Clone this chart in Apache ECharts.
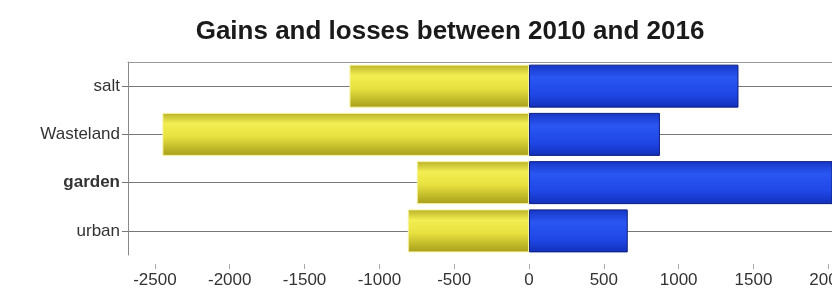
<!DOCTYPE html>
<html>
<head>
<meta charset="utf-8">
<script src="https://cdn.jsdelivr.net/npm/echarts@6/dist/echarts.min.js"></script>
<style>
  html, body { margin: 0; padding: 0; background: #fff; }
  #main { width: 832px; height: 293px; }
</style>
</head>
<body>
<div id="main"></div>
<script>
// categories top to bottom
var categories = ["salt", "Wasteland", "garden", "urban"];
// losses (yellow) and gains (blue)
var losses = [-1200, -2450, -750, -810];
var gains = [1400, 875, 2150, 660];
var tickValues = [-2500, -2000, -1500, -1000, -500, 0, 500, 1000, 1500, 2000];

var myChart = echarts.init(document.getElementById('main'));

var yellowFill = new echarts.graphic.LinearGradient(0, 0, 0, 1, [
    {offset: 0, color: '#b9b128'},
    {offset: 0.25, color: '#f3ee52'},
    {offset: 0.55, color: '#e8e140'},
    {offset: 1, color: '#a69e1a'}
]);
var blueFill = new echarts.graphic.LinearGradient(0, 0, 0, 1, [
    {offset: 0, color: '#1736c4'},
    {offset: 0.3, color: '#2a56f2'},
    {offset: 0.7, color: '#1f47e6'},
    {offset: 1, color: '#1230b8'}
]);

var option = {
    animation: false,
    title: {
        text: 'Gains and losses between 2010 and 2016',
        left: 445,
        textAlign: 'center',
        top: 14,
        textStyle: {
            fontFamily: 'Liberation Sans, Arial, sans-serif',
            fontSize: 26,
            fontWeight: 'bold',
            color: '#1a1a1a'
        }
    },
    grid: {left: 128, right: 0, top: 62, bottom: 38, containLabel: false, outerBoundsMode: 'none'},
    xAxis: [{
        type: 'value',
        min: -2680,
        max: 2025,
        offset: 9,
        axisLine: {show: false},
        axisTick: {show: true, length: 5, customValues: tickValues, lineStyle: {color: '#aaa'}},
        axisLabel: {
            customValues: tickValues,
            margin: 8,
            fontFamily: 'Liberation Sans, Arial, sans-serif',
            fontSize: 17,
            color: '#333',
            formatter: function (v) { return String(v); }
        },
        splitLine: {show: false}
    }, {
        type: 'value',
        position: 'top',
        min: -2680,
        max: 2025,
        axisLine: {show: true, onZero: false, lineStyle: {color: '#999', width: 1}},
        axisTick: {show: false},
        axisLabel: {show: false},
        splitLine: {show: false}
    }],
    yAxis: {
        type: 'category',
        inverse: true,
        data: categories,
        axisLine: {show: true, onZero: false, lineStyle: {color: '#888'}},
        axisTick: {show: true, alignWithLabel: true, length: 6, lineStyle: {color: '#777'}},
        axisLabel: {
            margin: 8,
            fontFamily: 'Liberation Sans, Arial, sans-serif',
            fontSize: 17,
            color: '#333',
            formatter: function (v) {
                return v === 'garden' ? '{b|' + v + '}' : v;
            },
            rich: {
                b: {fontFamily: 'Liberation Sans, Arial, sans-serif', fontSize: 17, fontWeight: 'bold', color: '#333'}
            }
        },
        splitLine: {show: true, alignWithLabel: true, lineStyle: {color: '#777', width: 1}}
    },
    series: [{
        name: 'losses',
        type: 'bar',
        stack: 'total',
        barWidth: 43,
        data: losses,
        itemStyle: {color: yellowFill, borderColor: '#f6f3a0', borderWidth: 1}
    }, {
        name: 'gains',
        type: 'bar',
        stack: 'total',
        barWidth: 43,
        data: gains,
        itemStyle: {color: blueFill, borderColor: '#0d1f80', borderWidth: 1}
    }]
};
myChart.setOption(option);
</script>
</body>
</html>
